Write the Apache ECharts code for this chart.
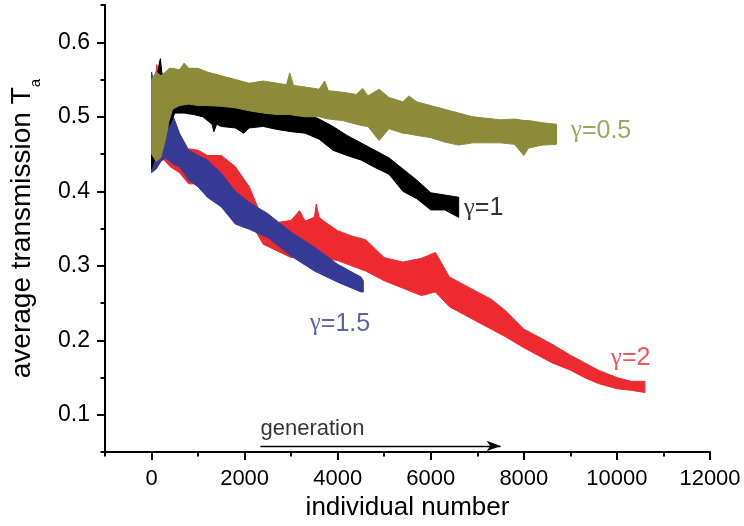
<!DOCTYPE html>
<html>
<head>
<meta charset="utf-8">
<script src="https://cdn.jsdelivr.net/npm/echarts@6/dist/echarts.min.js"></script>
<style>
  html, body { margin: 0; padding: 0; background: #fff; }
  #chart { width: 744px; height: 526px; }
</style>
</head>
<body>
<div id="chart"></div>
<script>
// tick values
var xMajorTicks = [0, 2000, 4000, 6000, 8000, 10000, 12000];
var xMinorTicks = [-1000, 1000, 3000, 5000, 7000, 9000, 11000];
var yMajorTicks = [0.1, 0.2, 0.3, 0.4, 0.5, 0.6];
var yMinorTicks = [0.05, 0.15, 0.25, 0.35, 0.45, 0.55, 0.65];

// gamma = 0.5 (olive), upper / lower edge of the noisy trace
var g05X  = [0, 100, 200, 300, 380, 450, 600, 700, 800, 1000, 1200, 1500, 1800, 2100, 2400, 2700, 2900, 2970, 3050, 3300, 3600, 3720, 3800, 4100, 4400, 4540, 4650, 4890, 5100, 5400, 5530, 5700, 6000, 6300, 6600, 6900, 7200, 7500, 7800, 8000, 8100, 8400, 8700];
var g05Hi = [0.55, 0.56, 0.555, 0.56, 0.565, 0.565, 0.563, 0.572, 0.565, 0.565, 0.56, 0.555, 0.55, 0.545, 0.548, 0.545, 0.543, 0.559, 0.542, 0.54, 0.537, 0.548, 0.535, 0.533, 0.53, 0.538, 0.528, 0.537, 0.526, 0.52, 0.528, 0.52, 0.515, 0.51, 0.505, 0.50, 0.498, 0.496, 0.497, 0.495, 0.495, 0.492, 0.49];
var g05Lo = [0.45, 0.44, 0.445, 0.47, 0.495, 0.51, 0.515, 0.516, 0.517, 0.515, 0.515, 0.514, 0.512, 0.508, 0.505, 0.503, 0.503, 0.503, 0.502, 0.50, 0.50, 0.498, 0.497, 0.495, 0.49, 0.488, 0.487, 0.468, 0.484, 0.478, 0.477, 0.475, 0.472, 0.466, 0.462, 0.465, 0.465, 0.465, 0.463, 0.448, 0.458, 0.462, 0.463];

// gamma = 1 (black)
var g1X  = [0, 100, 160, 190, 220, 300, 400, 500, 700, 900, 1100, 1300, 1340, 1400, 1500, 1800, 1980, 2100, 2400, 2700, 3000, 3300, 3600, 3900, 4200, 4500, 4800, 5100, 5400, 5700, 6000, 6300, 6600];
var g1Hi = [0.55, 0.545, 0.57, 0.578, 0.56, 0.545, 0.53, 0.52, 0.523, 0.525, 0.527, 0.53, 0.53, 0.528, 0.525, 0.522, 0.52, 0.52, 0.518, 0.515, 0.51, 0.505, 0.497, 0.487, 0.475, 0.465, 0.455, 0.445, 0.43, 0.415, 0.398, 0.395, 0.392];
var g1Lo = [0.43, 0.45, 0.46, 0.47, 0.475, 0.48, 0.49, 0.505, 0.505, 0.503, 0.50, 0.49, 0.48, 0.49, 0.487, 0.485, 0.478, 0.485, 0.487, 0.483, 0.48, 0.478, 0.47, 0.455, 0.448, 0.442, 0.432, 0.423, 0.40, 0.39, 0.375, 0.375, 0.365];

// gamma = 1.5 (blue)
var g15X  = [0, 100, 200, 300, 400, 500, 600, 800, 1000, 1200, 1500, 1800, 2100, 2500, 3000, 3500, 4000, 4500, 4550];
var g15Hi = [0.56, 0.53, 0.52, 0.51, 0.51, 0.495, 0.478, 0.455, 0.448, 0.442, 0.424, 0.40, 0.385, 0.37, 0.345, 0.325, 0.302, 0.285, 0.28];
var g15Lo = [0.425, 0.43, 0.44, 0.445, 0.44, 0.435, 0.433, 0.415, 0.406, 0.392, 0.379, 0.356, 0.349, 0.338, 0.313, 0.293, 0.278, 0.265, 0.265];

// gamma = 2 (red)
var g2X  = [0, 80, 115, 150, 200, 300, 400, 600, 800, 1000, 1200, 1500, 1800, 2100, 2400, 2700, 3000, 3180, 3300, 3500, 3540, 3600, 3700, 4000, 4300, 4600, 5000, 5400, 5800, 6100, 6400, 6700, 7000, 7300, 7600, 8000, 8300, 8600, 9000, 9300, 9600, 10000, 10300, 10600];
var g2Hi = [0.54, 0.55, 0.57, 0.55, 0.51, 0.47, 0.46, 0.45, 0.457, 0.455, 0.448, 0.448, 0.433, 0.406, 0.361, 0.358, 0.361, 0.374, 0.36, 0.365, 0.383, 0.365, 0.36, 0.347, 0.34, 0.335, 0.311, 0.305, 0.31, 0.318, 0.285, 0.275, 0.265, 0.255, 0.24, 0.215, 0.205, 0.195, 0.18, 0.17, 0.16, 0.15, 0.145, 0.145];
var g2Lo = [0.43, 0.435, 0.44, 0.44, 0.445, 0.44, 0.433, 0.425, 0.41, 0.41, 0.41, 0.406, 0.388, 0.361, 0.329, 0.32, 0.311, 0.312, 0.312, 0.316, 0.316, 0.315, 0.31, 0.307, 0.30, 0.293, 0.28, 0.27, 0.26, 0.265, 0.245, 0.235, 0.225, 0.215, 0.205, 0.19, 0.18, 0.17, 0.16, 0.15, 0.142, 0.135, 0.133, 0.13];

// annotations (data units)
var labelText = ['0.5', '1', '1.5', '2'];
var labelX = [9010, 6710, 3400, 9870];
var labelY = [0.481, 0.377, 0.222, 0.176];
var arrowText = 'generation';
var arrowFrom = [2340, 0.0582];
var arrowTo = [7500, 0.0582];

var OLIVE = '#8b8b3a', BLACK = '#000000', BLUE = '#353a94', RED = '#ec2a30';
var labelColors = [OLIVE, BLACK, BLUE, RED];

// noisy trace drawn as the region between its upper and lower edge
function band(color, xs, hi, lo) {
    var rows = xs.map(function (x, i) { return [x, hi[i], lo[i]]; });
    return {
        type: 'custom',
        silent: true,
        animation: false,
        data: [0],
        renderItem: function (params, api) {
            var pts = [];
            rows.forEach(function (r) { pts.push(api.coord([r[0], r[1]])); });
            for (var i = rows.length - 1; i >= 0; i--) {
                pts.push(api.coord([rows[i][0], rows[i][2]]));
            }
            return {
                type: 'polygon',
                shape: { points: pts },
                style: { fill: color, stroke: color, lineWidth: 1 }
            };
        }
    };
}

var chart = echarts.init(document.getElementById('chart'));

var font = 'Liberation Sans, Arial, sans-serif';

var series = [
    band(RED, g2X, g2Hi, g2Lo),
    band(BLUE, g15X, g15Hi, g15Lo),
    band(BLACK, g1X, g1Hi, g1Lo),
    band(OLIVE, g05X, g05Hi, g05Lo)
];

var annData = labelText.map(function (t, i) {
    return {
        value: [labelX[i], labelY[i]],
        label: {
            formatter: '{g|γ}{t|=' + t + '}',
            rich: {
                g: { fontFamily: 'Liberation Serif, DejaVu Serif, serif', fontSize: 25, color: labelColors[i] },
                t: { fontFamily: font, fontSize: 25, color: labelColors[i] }
            }
        }
    };
});
annData.push({
    value: [arrowFrom[0], 0.0815],
    label: { formatter: arrowText, fontSize: 22, fontFamily: font, color: '#000' }
});

series.push({
    type: 'scatter',
    symbolSize: 0,
    silent: true,
    animation: false,
    label: { show: true, position: 'right', distance: 0 },
    data: annData,
    markLine: {
        silent: true,
        animation: false,
        symbol: ['none', 'arrow'],
        symbolSize: [8, 14],
        label: { show: false },
        lineStyle: { color: '#000', width: 1.3, type: 'solid' },
        data: [[{ coord: arrowFrom }, { coord: arrowTo }]]
    }
});

function plain(v) { return String(v); }

var option = {
    animation: false,
    grid: { left: 100, right: 34, top: 5, bottom: 73.5 },
    xAxis: [{
        type: 'value',
        min: -1000,
        max: 12000,
        name: 'individual number',
        nameLocation: 'middle',
        nameGap: 29,
        nameTextStyle: { fontSize: 26, color: '#000', fontFamily: font },
        axisLine: { onZero: false, lineStyle: { color: '#000', width: 2 } },
        axisTick: { customValues: xMajorTicks, length: 8, lineStyle: { color: '#000', width: 2 } },
        axisLabel: { customValues: xMajorTicks, formatter: plain, fontSize: 22, margin: 16, color: '#000', fontFamily: font },
        splitLine: { show: false }
    }, {
        type: 'value',
        min: -1000,
        max: 12000,
        position: 'bottom',
        axisLine: { show: false, onZero: false },
        axisTick: { customValues: xMinorTicks, length: 4.5, lineStyle: { color: '#000', width: 2 } },
        axisLabel: { show: false },
        splitLine: { show: false }
    }],
    yAxis: [{
        type: 'value',
        min: 0.05,
        max: 0.65,
        name: '{m|average transmission T}{s|a}',
        nameLocation: 'middle',
        nameRotate: 90,
        nameGap: 62,
        nameTextStyle: {
            rich: {
                m: { fontSize: 28, fontFamily: font, color: '#000', lineHeight: 42 },
                s: { fontSize: 15, fontFamily: font, color: '#000', lineHeight: 15, verticalAlign: 'bottom' }
            }
        },
        axisLine: { onZero: false, lineStyle: { color: '#000', width: 2 } },
        axisTick: { customValues: yMajorTicks, length: 8, lineStyle: { color: '#000', width: 2 } },
        axisLabel: { customValues: yMajorTicks, formatter: plain, fontSize: 23, margin: 15, color: '#000', fontFamily: font },
        splitLine: { show: false }
    }, {
        type: 'value',
        min: 0.05,
        max: 0.65,
        position: 'left',
        axisLine: { show: false, onZero: false },
        axisTick: { customValues: yMinorTicks, length: 4.5, lineStyle: { color: '#000', width: 2 } },
        axisLabel: { show: false },
        splitLine: { show: false }
    }],
    series: series
};

chart.setOption(option);
</script>
</body>
</html>
